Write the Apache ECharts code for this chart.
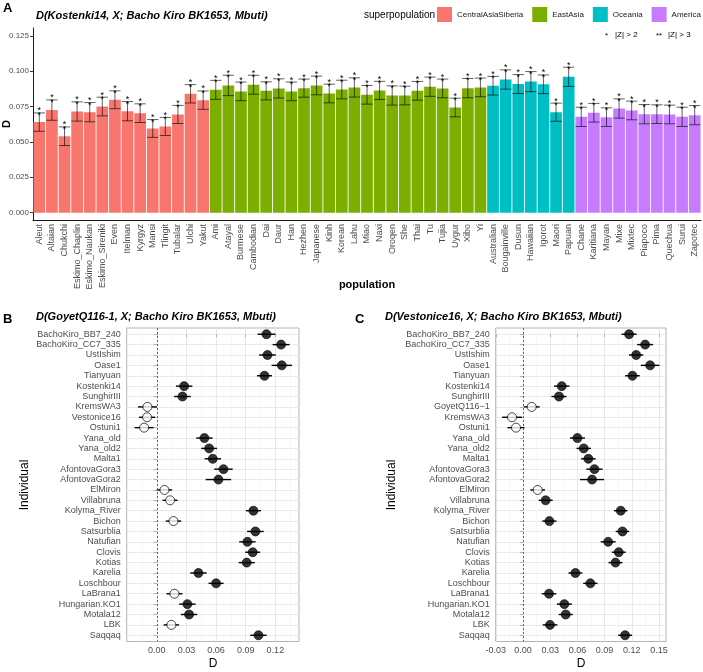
<!DOCTYPE html>
<html><head><meta charset="utf-8">
<script src="https://cdn.jsdelivr.net/npm/echarts@6/dist/echarts.min.js"></script>
<style>html,body{margin:0;padding:0;background:#fff}#c{width:703px;height:672px}</style>
</head><body><div id="c"></div>
<script>
const FONT = 'Liberation Sans, Arial, sans-serif';
// ---- Panel A data ----
const popCAS = ['Aleut','Altaian','Chukchi','Eskimo_Chaplin','Eskimo_Naukan','Eskimo_Sireniki','Even','Itelman','Kyrgyz','Mansi','Tlingit','Tubalar','Ulchi','Yakut'];
const popEA = ['Ami','Atayal','Burmese','Cambodian','Dai','Daur','Han','Hezhen','Japanese','Kinh','Korean','Lahu','Miao','Naxi','Oroqen','She','Thai','Tu','Tujia','Uygur','Xibo','Yi'];
const popOC = ['Australian','Bougainville','Dusun','Hawaiian','Igorot','Maori','Papuan'];
const popAM = ['Chane','Karitiana','Mayan','Mixe','Mixtec','Piapoco','Pima','Quechua','Surui','Zapotec'];
const dCAS = [0.0640,0.0725,0.0540,0.0715,0.0710,0.0750,0.0798,0.0717,0.0703,0.0595,0.0609,0.0694,0.0840,0.0795];
const eCAS = [0.0065,0.0072,0.0066,0.0068,0.0068,0.0066,0.0063,0.0068,0.0066,0.0063,0.0064,0.0064,0.0065,0.0065];
const dEA = [0.0868,0.0899,0.0857,0.0904,0.0861,0.0878,0.0857,0.0880,0.0899,0.0842,0.0870,0.0885,0.0833,0.0864,0.0828,0.0828,0.0861,0.0890,0.0878,0.0743,0.0880,0.0885];
const eEA = [0.0067,0.0072,0.0066,0.0067,0.0064,0.0068,0.0066,0.0064,0.0066,0.0066,0.0066,0.0068,0.0066,0.0064,0.0068,0.0066,0.0066,0.0068,0.0066,0.0066,0.0068,0.0066];
const dOC = [0.0897,0.0941,0.0909,0.0926,0.0907,0.0710,0.0960];
const eOC = [0.0066,0.0068,0.0067,0.0071,0.0066,0.0064,0.0068];
const dAM = [0.0677,0.0706,0.0675,0.0736,0.0722,0.0696,0.0696,0.0694,0.0677,0.0689];
const eAM = [0.0068,0.0066,0.0066,0.0068,0.0066,0.0068,0.0066,0.0066,0.0068,0.0068];
const groupNames = ['CentralAsiaSiberia','EastAsia','Oceania','America'];
const groupColors = ['#F8766D','#7CAE00','#00BFC4','#C77CFF'];
const yTicksA = [0,0.025,0.05,0.075,0.1,0.125];

// ---- Panel B data ----
const indB = ['BachoKiro_BB7_240','BachoKiro_CC7_335','UstIshim','Oase1','Tianyuan','Kostenki14','SunghirIII','KremsWA3','Vestonice16','Ostuni1','Yana_old','Yana_old2','Malta1','AfontovaGora3','AfontovaGora2','ElMiron','Villabruna','Kolyma_River','Bichon','Satsurblia','Natufian','Clovis','Kotias','Karelia','Loschbour','LaBrana1','Hungarian.KO1','Motala12','LBK','Saqqaq'];
const dB = [0.1110,0.1258,0.1120,0.1265,0.1090,0.0277,0.0260,-0.0094,-0.0098,-0.0128,0.0482,0.0530,0.0567,0.0675,0.0624,0.0078,0.0135,0.0978,0.0169,0.0998,0.0917,0.0971,0.0910,0.0422,0.0600,0.0179,0.0310,0.0327,0.0148,0.1029];
const eB = [0.0090,0.0086,0.0084,0.0103,0.0076,0.0083,0.0084,0.0096,0.0081,0.0096,0.0083,0.0080,0.0083,0.0093,0.0129,0.0078,0.0076,0.0076,0.0078,0.0084,0.0083,0.0076,0.0081,0.0083,0.0076,0.0081,0.0083,0.0083,0.0078,0.0083];
const sigB = [1,1,1,1,1,1,1,0,0,0,1,1,1,1,1,0,0,1,0,1,1,1,1,1,1,0,1,1,0,1];
const xTicksB = [0,0.03,0.06,0.09,0.12];
const xMinorB = [-0.015,0.015,0.045,0.075,0.105,0.135];

// ---- Panel C data ----
const indC = ['BachoKiro_BB7_240','BachoKiro_CC7_335','UstIshim','Oase1','Tianyuan','Kostenki14','SunghirIII','GoyetQ116\u22121','KremsWA3','Ostuni1','Yana_old','Yana_old2','Malta1','AfontovaGora3','AfontovaGora2','ElMiron','Villabruna','Kolyma_River','Bichon','Satsurblia','Natufian','Clovis','Kotias','Karelia','Loschbour','LaBrana1','Hungarian.KO1','Motala12','LBK','Saqqaq'];
const dC = [0.1170,0.1347,0.1248,0.1402,0.1207,0.0427,0.0397,0.0096,-0.0121,-0.0077,0.0600,0.0670,0.0721,0.0788,0.0762,0.0162,0.0250,0.1078,0.0291,0.1097,0.0939,0.1056,0.1020,0.0578,0.0743,0.0287,0.0456,0.0471,0.0298,0.1126];
const eC = [0.0083,0.0088,0.0079,0.0103,0.0081,0.0085,0.0083,0.0087,0.0110,0.0094,0.0083,0.0079,0.0080,0.0090,0.0133,0.0081,0.0077,0.0074,0.0079,0.0075,0.0083,0.0077,0.0077,0.0077,0.0079,0.0080,0.0083,0.0077,0.0081,0.0077];
const sigC = [1,1,1,1,1,1,1,0,0,0,1,1,1,1,1,0,1,1,1,1,1,1,1,1,1,1,1,1,1,1];
const xTicksC = [-0.03,0,0.03,0.06,0.09,0.12,0.15];
const xMinorC = [-0.015,0.015,0.045,0.075,0.105,0.135];

// ---- build ----
const categories = popCAS.concat(popEA, popOC, popAM);
const dValues = dCAS.concat(dEA, dOC, dAM);
const eValues = eCAS.concat(eEA, eOC, eAM);
const groupOf = [].concat(popCAS.map(()=>0), popEA.map(()=>1), popOC.map(()=>2), popAM.map(()=>3));

const chart = echarts.init(document.getElementById('c'), null, {renderer:'canvas'});

const barSeries = groupNames.map((g, gi) => ({
  name: g, type: 'bar', xAxisIndex: 0, yAxisIndex: 0,
  barWidth: '93%', barGap: '-100%',
  itemStyle: {color: groupColors[gi]},
  data: dValues.map((v, i) => groupOf[i] === gi ? v : '-'),
  animation: false
}));

const errA = {
  type: 'custom', xAxisIndex: 0, yAxisIndex: 0, z: 5,
  data: dValues.map((v, i) => [i, v, eValues[i]]),
  encode: {x: 0, y: 1},
  renderItem: (params, api) => {
    const x = api.value(0), v = api.value(1), e = api.value(2);
    const t = api.coord([x, v + e]), b = api.coord([x, v - e]);
    const hw = api.size([1, 0])[0] * 0.45;
    const st = {stroke: 'rgba(0,0,0,0.62)', lineWidth: 1};
    return {type: 'group', children: [
      {type: 'line', shape: {x1: t[0], y1: t[1], x2: b[0], y2: b[1]}, style: st},
      {type: 'line', shape: {x1: t[0]-hw, y1: t[1], x2: t[0]+hw, y2: t[1]}, style: st},
      {type: 'line', shape: {x1: b[0]-hw, y1: b[1], x2: b[0]+hw, y2: b[1]}, style: st},
      {type: 'text', style: {text: '*', x: t[0], y: t[1] + 2.5, fill: '#000', font: '9px ' + FONT, align: 'center', verticalAlign: 'middle'}},
      {type: 'text', style: {text: '*', x: t[0], y: t[1] - 2, fill: '#000', font: '9px ' + FONT, align: 'center', verticalAlign: 'middle'}}
    ]};
  },
  animation: false
};

function dotPanel(xi, yi, names, d, e, sig) {
  const err = {
    type: 'custom', xAxisIndex: xi, yAxisIndex: yi, z: 3,
    data: d.map((v, i) => [v, i, e[i]]),
    encode: {x: 0, y: 1},
    renderItem: (params, api) => {
      const v = api.value(0), i = api.value(1), er = api.value(2);
      const a = api.coord([v - er, i]), b = api.coord([v + er, i]);
      return {type: 'line', shape: {x1: a[0], y1: a[1], x2: b[0], y2: b[1]}, style: {stroke: '#000', lineWidth: 1.4}};
    },
    animation: false
  };
  const pts = {
    type: 'scatter', xAxisIndex: xi, yAxisIndex: yi, z: 4,
    symbol: 'circle', symbolSize: 9,
    data: d.map((v, i) => ({value: [v, i], itemStyle: sig[i] ? {color: '#000', borderColor: '#000', borderWidth: 0.8} : {color: '#fff', borderColor: '#000', borderWidth: 0.9}})),
    markLine: {silent: true, symbol: 'none', label: {show: false}, animation: false,
      lineStyle: {color: '#555', type: [2, 2], width: 0.9}, data: [{xAxis: 0}]},
    animation: false
  };
  return [err, pts];
}

const gridBorder = '#b3b3b3';
const majorX = (gi, min, max, ticks) => ({
  type: 'value', gridIndex: gi, position: 'bottom', min: min, max: max,
  axisLine: {show: false},
  axisTick: {show: true, length: 3, lineStyle: {color: '#888', width: 0.6}, customValues: ticks},
  axisLabel: {customValues: ticks, formatter: v => v.toFixed(2), fontSize: 9, color: '#4d4d4d', fontFamily: FONT, margin: 5},
  splitLine: {show: true, lineStyle: {color: '#e6e6e6', width: 0.9}}
});
const minorX = (gi, min, max, ticks) => ({
  type: 'value', gridIndex: gi, position: 'top', min: min, max: max,
  axisLine: {show: false}, axisTick: {show: false, customValues: ticks},
  axisLabel: {show: false, customValues: ticks},
  splitLine: {show: true, lineStyle: {color: '#f1f1f1', width: 0.5}}
});
const rowIdx = indB.map((n, i) => i);
const catY = (gi, names) => ({
  type: 'value', gridIndex: gi, inverse: true, min: -0.6, max: names.length - 0.4,
  axisLine: {show: false},
  axisTick: {show: true, length: 3, lineStyle: {color: '#888', width: 0.6}, customValues: rowIdx},
  axisLabel: {customValues: rowIdx, formatter: v => names[Math.round(v)], fontSize: 9, color: '#4d4d4d', fontFamily: FONT, margin: 6},
  splitLine: {show: true, lineStyle: {color: '#e6e6e6', width: 0.9}}
});

const txt = (text, x, y, font) => ({type: 'text', x: x, y: y, style: {text: text, font: font, fill: '#000', textVerticalAlign: 'middle'}});

const option = {
  backgroundColor: '#fff',
  animation: false,
  textStyle: {fontFamily: FONT},
  legend: {
    left: 437, top: 7, padding: 0, itemWidth: 15, itemHeight: 15, itemGap: 9, icon: 'rect',
    data: groupNames, selectedMode: false,
    textStyle: {fontSize: 8, color: '#1a1a1a', fontFamily: FONT}
  },
  grid: [
    {left: 33, top: 28, width: 668, height: 192},
    {left: 126.7, top: 328, width: 172.3, height: 313.5, show: true, borderColor: gridBorder, borderWidth: 1, backgroundColor: 'transparent'},
    {left: 495.7, top: 328, width: 170.3, height: 313.5, show: true, borderColor: gridBorder, borderWidth: 1, backgroundColor: 'transparent'}
  ],
  xAxis: [
    {type: 'category', gridIndex: 0, data: categories, boundaryGap: true,
      axisLine: {onZero: false, lineStyle: {color: '#000', width: 0.9}},
      axisTick: {alignWithLabel: true, length: 3, lineStyle: {color: '#000', width: 0.8}},
      axisLabel: {interval: 0, rotate: 90, fontSize: 9, color: '#4d4d4d', fontFamily: FONT, margin: 4},
      splitLine: {show: false}},
    majorX(1, -0.0304, 0.1439, xTicksB),
    minorX(1, -0.0304, 0.1439, xMinorB),
    majorX(2, -0.0301, 0.1577, xTicksC),
    minorX(2, -0.0301, 0.1577, xMinorC)
  ],
  yAxis: [
    {type: 'value', gridIndex: 0, min: -0.0052, max: 0.1305,
      axisLine: {show: true, lineStyle: {color: '#000', width: 0.9}},
      axisTick: {show: true, length: 3, lineStyle: {color: '#000', width: 0.8}, customValues: yTicksA},
      axisLabel: {customValues: yTicksA, formatter: v => v.toFixed(3), fontSize: 8, color: '#4d4d4d', fontFamily: FONT, margin: 4},
      splitLine: {show: false}},
    catY(1, indB),
    catY(2, indC)
  ],
  series: barSeries.concat([errA], dotPanel(1, 1, indB, dB, eB, sigB), dotPanel(3, 2, indC, dC, eC, sigC)),
  graphic: [
    txt('A', 3, 8, 'bold 13px ' + FONT),
    txt('D(Kostenki14, X; Bacho Kiro BK1653, Mbuti)', 36, 16, 'italic bold 11px ' + FONT),
    txt('superpopulation', 364, 15, '10px ' + FONT),
    txt('*', 605, 36, '8px ' + FONT),
    txt('|Z| > 2', 615, 35, '8px ' + FONT),
    txt('**', 656, 36, '8px ' + FONT),
    txt('|Z| > 3', 668, 35, '8px ' + FONT),
    {type: 'text', x: 7, y: 124, rotation: Math.PI / 2, style: {text: 'D', font: 'bold 11px ' + FONT, fill: '#000', textAlign: 'center', textVerticalAlign: 'middle'}},
    {type: 'text', x: 367, y: 285, style: {text: 'population', font: 'bold 11px ' + FONT, fill: '#000', textAlign: 'center', textVerticalAlign: 'middle'}},
    txt('B', 3, 319, 'bold 13px ' + FONT),
    txt('D(GoyetQ116-1, X; Bacho Kiro BK1653, Mbuti)', 36, 317, 'italic bold 11px ' + FONT),
    txt('C', 355, 319, 'bold 13px ' + FONT),
    txt('D(Vestonice16, X; Bacho Kiro BK1653, Mbuti)', 385, 317, 'italic bold 11px ' + FONT),
    {type: 'text', x: 25, y: 485, rotation: Math.PI / 2, style: {text: 'Individual', font: '12px ' + FONT, fill: '#000', textAlign: 'center', textVerticalAlign: 'middle'}},
    {type: 'text', x: 392, y: 485, rotation: Math.PI / 2, style: {text: 'Individual', font: '12px ' + FONT, fill: '#000', textAlign: 'center', textVerticalAlign: 'middle'}},
    {type: 'text', x: 213, y: 664, style: {text: 'D', font: '12px ' + FONT, fill: '#000', textAlign: 'center', textVerticalAlign: 'middle'}},
    {type: 'text', x: 581, y: 664, style: {text: 'D', font: '12px ' + FONT, fill: '#000', textAlign: 'center', textVerticalAlign: 'middle'}}
  ]
};
chart.setOption(option);
</script>
</body></html>
